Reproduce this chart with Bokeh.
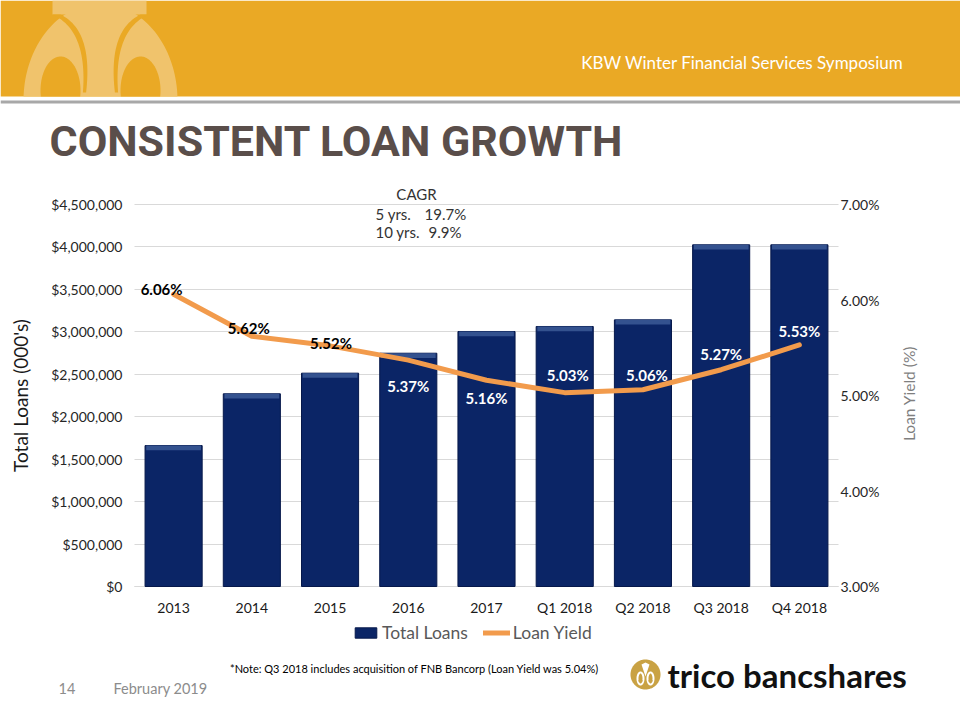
import numpy as np
from bokeh.plotting import figure
from bokeh.models import (Range1d, LinearAxis, FixedTicker, NumeralTickFormatter,
                          PrintfTickFormatter, ColumnDataSource, LabelSet, Legend, LegendItem)
from bokeh.core.properties import value
from bokeh.embed import file_html
from bokeh.resources import INLINE

# ---------------- data ----------------
categories = ["2013", "2014", "2015", "2016", "2017", "Q1 2018", "Q2 2018", "Q3 2018", "Q4 2018"]
total_loans = [1660000, 2270000, 2513000, 2748000, 3004000, 3063000, 3141000, 4025000, 4025000]
loan_yield = [6.06, 5.62, 5.52, 5.37, 5.16, 5.03, 5.06, 5.27, 5.53]
loan_ticks = [0, 500000, 1000000, 1500000, 2000000, 2500000, 3000000, 3500000, 4000000, 4500000]
yield_ticks = [3, 4, 5, 6, 7]
cagr_title = "CAGR"
cagr_periods = ["5 yrs.", "10 yrs."]
cagr_values = ["19.7%", "9.9%"]
note_text = "*Note: Q3 2018 includes acquisition of FNB Bancorp (Loan Yield was 5.04%)"

# ---------------- styles ----------------
FN = "Lato"
FONT = value(FN)
NAVY = "#0B2566"
ORANGE = "#F29B4C"
GOLD = "#EAA925"
label_dx = [-12, -3, 1, 0, 0, 3, 4, 0, 0]
label_dy = [5, 8, 3, -26, -18, 18, 15, 16, 14]
label_color = ["#000000"] * 3 + ["#FFFFFF"] * 6

# page layout (pixels): whole canvas is the frame; the chart area spans x 134..838, y 204..586
W, H = 960, 720
FL, FR, FT, FB = 134, 838, 204, 586
N = len(categories)
YMAX, Y2MIN, Y2MAX = 4500000, 3.0, 7.0
xpx = N / (FR - FL)              # x units per pixel
ypx = YMAX / (FB - FT)           # loan units per pixel
y2px = (Y2MAX - Y2MIN) / (FB - FT)


def X(px):
    return -0.5 + (px - FL) * xpx


def Y(py):
    return (FB - py) * ypx


p = figure(width=W, height=H, output_backend="svg", toolbar_location=None,
           x_range=Range1d(X(0), X(W)), y_range=Range1d(Y(H), Y(0)),
           x_axis_location=None, y_axis_location=None, min_border=0,
           outline_line_color=None, background_fill_color="#FFFFFF", border_fill_color="#FFFFFF")
p.extra_y_ranges = {"yield": Range1d(Y2MIN - (H - FB) * y2px, Y2MAX + FT * y2px)}
p.xgrid.visible = False
p.ygrid.visible = False

# ---------------- header (page decoration) ----------------
p.quad(left=[X(0)], right=[X(W)], top=[Y(0)], bottom=[Y(96)], fill_color=GOLD, line_color=None)
p.quad(left=[X(0)], right=[X(W)], top=[Y(100)], bottom=[Y(103)], fill_color="#A8A8A8",
       line_color=None)
t = np.linspace(0, 2 * np.pi, 160)
p.patch(X(100 + 77 * np.cos(t)), Y(np.clip(100 + 97 * np.sin(t), 0, 96)), fill_color="#F0C36C",
        line_color=None)
p.quad(left=[X(52)], right=[X(146)], top=[Y(0)], bottom=[Y(14)], fill_color="#F0C36C",
       line_color=None)
for cx in (60, 140):
    p.patch(X(cx + 20 * np.cos(t)), Y(np.minimum(90 + 34 * np.sin(t), 96)), fill_color=GOLD,
            line_color=None)
s = np.linspace(0, 1, 30)
for sgn in (-1, 1):
    cxs = 100 + sgn * ((1 - s) ** 2 * 44 + 2 * s * (1 - s) * 10 + s ** 2 * 16)
    cys = (1 - s) ** 2 * 14 + 2 * s * (1 - s) * 30 + s ** 2 * 92
    wdt = 4 * (1 - 0.6 * s)
    p.patch(X(np.concatenate([cxs - wdt, (cxs + wdt)[::-1]])), Y(np.concatenate([cys, cys[::-1]])),
            fill_color=GOLD, line_color=None)
p.text(x=[X(903)], y=[Y(62)], text=["KBW Winter Financial Services Symposium"], text_font=FONT,
       text_font_size="17px", text_color="#FFFFFF", text_align="right", text_baseline="middle")
p.text(x=[X(49)], y=[Y(140)], text=["CONSISTENT LOAN GROWTH"], text_font=value("Roboto"),
       text_font_style="bold", text_font_size="43px", text_color="#5A4E4A",
       text_align="left", text_baseline="middle")

# ---------------- chart ----------------
xi = list(range(N))
src = ColumnDataSource(dict(
    x=xi, loans=total_loans, yld=loan_yield,
    bevel=[v - 55000 for v in total_loans],
    label=[f"{v:.2f}%" for v in loan_yield],
    dx=label_dx, dy=label_dy, color=label_color))

yl = LinearAxis(ticker=FixedTicker(ticks=loan_ticks), formatter=NumeralTickFormatter(format="$0,0"),
                fixed_location=-0.5, bounds=(0, YMAX), axis_label="Total Loans (000's)",
                major_tick_in=FR - FL, major_tick_out=0, major_tick_line_color="#D9D9D9",
                level="underlay")
yr = LinearAxis(y_range_name="yield", ticker=FixedTicker(ticks=yield_ticks),
                formatter=PrintfTickFormatter(format="%.2f%%"), fixed_location=N - 0.5,
                bounds=(Y2MIN, Y2MAX), major_tick_in=0, major_tick_out=0,
                major_tick_line_color=None)
xa = LinearAxis(ticker=FixedTicker(ticks=xi),
                major_label_overrides={i: c for i, c in enumerate(categories)},
                fixed_location=0, bounds=(-0.5, N - 0.5), axis_line_color="#D9D9D9",
                major_tick_line_color=None, minor_tick_line_color=None, level="underlay")
p.add_layout(yl, "left")
p.add_layout(yr, "right")
p.add_layout(xa, "below")

for ax in (yl, yr, xa):
    ax.minor_tick_line_color = None
    ax.major_label_text_font = FN
    ax.major_label_text_font_size = "14px"
    ax.major_label_text_color = "#262626"
    ax.axis_label_text_font = FN
    ax.axis_label_text_font_style = "normal"
yl.axis_line_color = None
yr.axis_line_color = None
yl.major_label_standoff = 12
yl.axis_label_text_font_size = "19px"
yl.axis_label_text_color = "#1A1A1A"
yl.axis_label_standoff = 16
yr.major_label_standoff = 2
xa.major_label_text_color = "#1A1A1A"
xa.major_label_standoff = 6

# right axis title, reading bottom-to-top as in the original
p.text(x=[X(908)], y=[Y(393)], text=["Loan Yield (%)"], angle=np.pi / 2, text_font=FONT,
       text_font_size="15.5px", text_color="#7F7F7F", text_align="center",
       text_baseline="middle")

bars = p.vbar(x="x", top="loans", width=0.73, source=src, fill_color=NAVY, line_color="#06184A")
p.vbar(x="x", top="loans", bottom="bevel", width=0.70, source=src, fill_color="#34528F",
       line_color=None)
line = p.line(x="x", y="yld", y_range_name="yield", source=src, line_color=ORANGE,
              line_width=5, line_cap="round", line_join="round")

p.add_layout(LabelSet(x="x", y="yld", y_range_name="yield", text="label", x_offset="dx",
                      y_offset="dy", text_color="color", source=src, text_font=FONT,
                      text_font_style="bold", text_font_size="15px", text_align="center",
                      text_baseline="middle"))

p.text(x=[X(416)], y=[Y(193)], text=[cagr_title], text_font=FONT, text_font_size="15px",
       text_color="#333333", text_align="center", text_baseline="middle")
p.text(x=[X(375)] * 2, y=[Y(213), Y(231)], text=cagr_periods, text_font=FONT,
       text_font_size="15px", text_color="#333333", text_align="left", text_baseline="middle")
p.text(x=[X(424), X(428)], y=[Y(213), Y(231)], text=cagr_values, text_font=FONT,
       text_font_size="15px", text_color="#333333", text_align="left", text_baseline="middle")

legend = Legend(items=[LegendItem(label="Total Loans", renderers=[bars]),
                       LegendItem(label="Loan Yield", renderers=[line])],
                orientation="horizontal", location=(352, H - 643),
                border_line_color=None, background_fill_alpha=0, label_text_font=FN,
                label_text_font_size="17.5px", label_text_color="#595959", glyph_width=27,
                glyph_height=13, label_standoff=3, spacing=15, padding=0, margin=0)
p.add_layout(legend, "center")

# ---------------- footer (page decoration) ----------------
p.text(x=[X(414)], y=[Y(668)], text=[note_text], text_font=FONT, text_font_size="11px",
       text_color="#000000", text_align="center", text_baseline="middle")
p.text(x=[X(58), X(113)], y=[Y(688)] * 2, text=["14", "February 2019"], text_font=FONT,
       text_font_size="14.5px", text_color="#8C8C8C", text_align="left", text_baseline="middle")
p.patch(X(645 + 15 * np.cos(t)), Y(674 + 15 * np.sin(t)), fill_color="#C9A244", line_color=None)
for cx in (640, 650):
    p.line(X(cx + 3 * np.cos(t)), Y(678 + 6 * np.sin(t)), line_color="#FFFFFF", line_width=2)
p.patch(X(np.array([641, 645, 649, 645])), Y(np.array([664, 662, 664, 676])), fill_color="#FFFFFF",
        line_color=None)
p.text(x=[X(667)], y=[Y(674)], text=["trico bancshares"], text_font=FONT, text_font_style="bold",
       text_font_size="33px", text_color="#111111", text_align="left", text_baseline="middle")

open("out.html", "w").write(file_html(p, INLINE))
